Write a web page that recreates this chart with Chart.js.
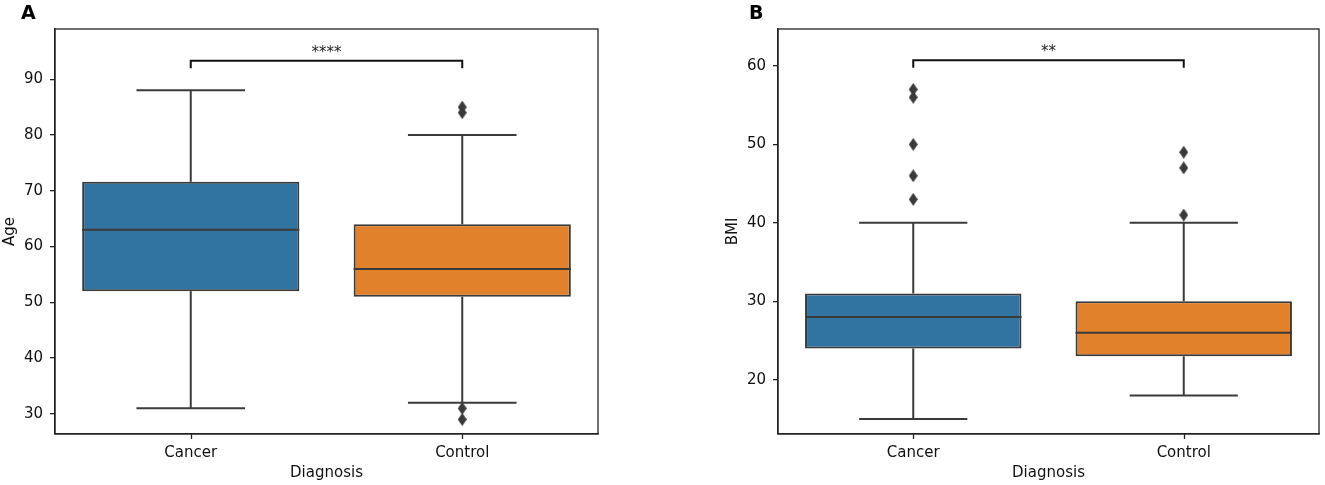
<!DOCTYPE html>
<html>
<head>
<meta charset="utf-8">
<script src="https://cdn.jsdelivr.net/npm/chart.js@4"></script>
<style>
  html, body { margin: 0; padding: 0; background: #fff; }
  #fig { position: relative; width: 1325px; height: 485px; font-family: 'DejaVu Sans', sans-serif; }
  .panel { position: absolute; top: 0; height: 485px; }
  .letter { position: absolute; top: 1px; font-weight: bold; font-size: 19px; color: #000; }
</style>
</head>
<body>
<div id="fig">
  <div class="panel" style="left:0;width:662px"><canvas id="age"></canvas></div>
  <div class="panel" style="left:662px;width:663px"><canvas id="bmi"></canvas></div>
  <div class="letter" style="left:21px">A</div>
  <div class="letter" style="left:749px">B</div>
</div>
<script>
// ---- data ----
const groups = ['Cancer', 'Control'];

const ageLow = [31, 32];
const ageQ1 = [52, 51];
const ageMed = [63, 56];
const ageQ3 = [71.6, 64];
const ageHigh = [88, 80];
const ageOutliers = [[], [85, 84, 31, 29]];
const ageTicks = [30, 40, 50, 60, 70, 80, 90];
const ageRange = [26.4, 99];
const ageBracket = [91.95, 93.3];   // leg bottom, bar level
const ageStars = '****';

const bmiLow = [15, 18];
const bmiQ1 = [24, 23];
const bmiMed = [28, 26];
const bmiQ3 = [31, 30];
const bmiHigh = [40, 40];
const bmiOutliers = [[57, 56, 50, 46, 43], [49, 47, 41]];
const bmiTicks = [20, 30, 40, 50, 60];
const bmiRange = [13.1, 64.7];
const bmiBracket = [59.75, 60.73];
const bmiStars = '**';

const boxColors = ['#3274a1', '#e1812c'];
const edge = '#3a3a3a';
const FONT = "'DejaVu Sans', sans-serif";
const SIZE = 15;

// thin diamond marker like matplotlib 'd'
function diamond() {
  const c = document.createElement('canvas');
  c.width = 9; c.height = 13;
  const g = c.getContext('2d');
  g.fillStyle = edge;
  g.beginPath();
  g.moveTo(4.5, 0); g.lineTo(9, 6.5); g.lineTo(4.5, 13); g.lineTo(0, 6.5);
  g.closePath(); g.fill();
  return c;
}
const marker = diamond();

// whiskers, caps, medians, frame, x tick marks and the significance bracket
function boxParts(low, med, high, q1, q3, bracket, stars) {
  return {
    id: 'boxParts',
    afterDatasetsDraw(chart) {
      const { ctx, chartArea } = chart;
      const xs = chart.scales.x, ys = chart.scales.y;
      const bars = chart.getDatasetMeta(0).data;
      const line = (x0, y0, x1, y1) => { ctx.beginPath(); ctx.moveTo(x0, y0); ctx.lineTo(x1, y1); ctx.stroke(); };
      ctx.save();
      ctx.strokeStyle = edge;
      ctx.lineWidth = 2;
      groups.forEach((g, i) => {
        const x = xs.getPixelForValue(i);
        const w = bars[i].width;
        line(x, ys.getPixelForValue(q3[i]), x, ys.getPixelForValue(high[i]));
        line(x, ys.getPixelForValue(q1[i]), x, ys.getPixelForValue(low[i]));
        line(x - w / 4, ys.getPixelForValue(high[i]), x + w / 4, ys.getPixelForValue(high[i]));
        line(x - w / 4, ys.getPixelForValue(low[i]), x + w / 4, ys.getPixelForValue(low[i]));
        line(x - w / 2, ys.getPixelForValue(med[i]), x + w / 2, ys.getPixelForValue(med[i]));
      });
      // axes frame + x tick marks
      ctx.strokeStyle = '#222';
      ctx.lineWidth = 1.3;
      ctx.strokeRect(chartArea.left, chartArea.top, chartArea.right - chartArea.left, chartArea.bottom - chartArea.top);
      groups.forEach((g, i) => {
        const x = Math.round(xs.getPixelForValue(i)) + 0.5;
        line(x, chartArea.bottom, x, chartArea.bottom + 5);
      });
      // bracket
      const xa = xs.getPixelForValue(0), xb = xs.getPixelForValue(1);
      const yLeg = ys.getPixelForValue(bracket[0]), yBar = ys.getPixelForValue(bracket[1]);
      ctx.strokeStyle = '#111';
      ctx.lineWidth = 2;
      ctx.beginPath();
      ctx.moveTo(xa, yLeg); ctx.lineTo(xa, yBar); ctx.lineTo(xb, yBar); ctx.lineTo(xb, yLeg);
      ctx.stroke();
      ctx.fillStyle = '#222';
      ctx.font = SIZE + 'px ' + FONT;
      ctx.textAlign = 'center';
      ctx.textBaseline = 'alphabetic';
      ctx.fillText(stars, (xa + xb) / 2, yBar - 4);
      ctx.restore();
    },
  };
}

function makePanel(id, yLabel, low, q1, med, q3, high, outliers, ticks, range, bracket, stars, padLeft, padRight) {
  const outPts = [];
  outliers.forEach((vals, i) => vals.forEach(v => outPts.push({ x: groups[i], y: v })));
  const axisLine = { display: true, color: '#222', width: 1.3 };
  const tickMarks = { display: true, drawOnChartArea: false, drawTicks: true, tickLength: 5, color: '#222', lineWidth: 1.3 };
  new Chart(document.getElementById(id), {
    type: 'bar',
    data: {
      labels: groups,
      datasets: [
        {
          data: groups.map((g, i) => [q1[i], q3[i]]),
          backgroundColor: boxColors,
          borderColor: edge,
          borderWidth: 2,
          borderSkipped: false,
          barPercentage: 0.8,
          categoryPercentage: 1.0,
        },
        {
          type: 'line',
          data: outPts,
          showLine: false,
          pointStyle: marker,
          pointRadius: 5,
        },
      ],
    },
    options: {
      responsive: true,
      maintainAspectRatio: false,
      animation: false,
      events: [],
      layout: { padding: { top: 29, right: padRight, left: padLeft, bottom: 0 } },
      plugins: { legend: { display: false }, tooltip: { enabled: false } },
      scales: {
        x: {
          grid: { display: false },
          border: axisLine,
          ticks: { color: '#111', font: { family: FONT, size: SIZE }, padding: 2 },
          title: { display: true, text: 'Diagnosis', color: '#111', font: { family: FONT, size: SIZE }, padding: { top: 0, bottom: 3 } },
          afterFit(s) { s.height = 51; },
        },
        y: {
          min: range[0],
          max: range[1],
          grid: tickMarks,
          border: axisLine,
          ticks: { color: '#111', font: { family: FONT, size: SIZE }, padding: 7 },
          afterBuildTicks(s) { s.ticks = ticks.map(v => ({ value: v })); },
          title: { display: true, text: yLabel, color: '#111', font: { family: FONT, size: SIZE }, padding: { top: 1, bottom: 0 } },
          afterFit(s) { s.width = 55; },
        },
      },
    },
    plugins: [boxParts(low, med, high, q1, q3, bracket, stars)],
  });
}

makePanel('age', 'Age', ageLow, ageQ1, ageMed, ageQ3, ageHigh, ageOutliers, ageTicks, ageRange, ageBracket, ageStars, 0, 64);
makePanel('bmi', 'BMI', bmiLow, bmiQ1, bmiMed, bmiQ3, bmiHigh, bmiOutliers, bmiTicks, bmiRange, bmiBracket, bmiStars, 61, 5);
</script>
</body>
</html>
